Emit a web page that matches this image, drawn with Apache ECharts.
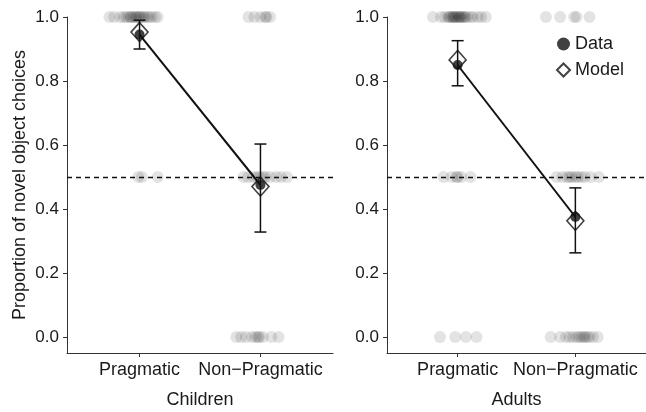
<!DOCTYPE html>
<html>
<head>
<meta charset="utf-8">
<script src="https://cdn.jsdelivr.net/npm/echarts@6/dist/echarts.min.js"></script>
<style>
  html, body { margin: 0; padding: 0; background: #fff; }
  #chart { width: 646px; height: 412px; }
</style>
</head>
<body>
<div id="chart"></div>
<script>
// categories and tick labels
var categories = ['Pragmatic', 'Non\u2212Pragmatic'];
var yTicks = [0, 0.2, 0.4, 0.6, 0.8, 1.0];

// means, error bars and model predictions
var childMean = [0.945, 0.475];
var childLow = [0.90, 0.328];
var childHigh = [0.99, 0.603];
var childModel = [0.953, 0.47];

var adultMean = [0.85, 0.375];
var adultLow = [0.785, 0.263];
var adultHigh = [0.926, 0.466];
var adultModel = [0.866, 0.363];

// jittered single-subject points (x position, one list per level)
var childPrag1 = [0.75, 0.79, 0.84, 0.87, 0.89, 0.91, 0.93, 0.93, 0.95, 0.97, 0.97, 0.99, 1.0, 1.01, 1.03, 1.04, 1.06, 1.08, 1.10, 1.13, 1.15];
var childPrag05 = [0.99, 1.02, 1.15];
var childNP1 = [1.90, 1.95, 2.0, 2.04, 2.05, 2.08];
var childNP05 = [1.86, 1.90, 1.94, 1.97, 1.99, 2.02, 2.04, 2.08, 2.13, 2.17, 2.22];
var childNP0 = [1.80, 1.84, 1.88, 1.93, 1.96, 1.98, 1.99, 2.02, 2.09, 2.15];

var adultPrag1 = [0.79, 0.86, 0.89, 0.92, 0.93, 0.94, 0.96, 0.96, 0.97, 0.98, 0.99, 1.01, 1.01, 1.02, 1.03, 1.04, 1.06, 1.06, 1.08, 1.11, 1.13, 1.17, 1.20, 1.24];
var adultPrag05 = [0.88, 0.95, 0.99, 1.0, 1.03, 1.11];
var adultPrag0 = [0.85, 0.98, 1.07, 1.16];
var adultNP1 = [1.75, 1.87, 1.99, 2.01, 2.12];
var adultNP05 = [1.84, 1.89, 1.93, 1.95, 1.97, 2.0, 2.02, 2.05, 2.08, 2.13, 2.2];
var adultNP0 = [1.79, 1.87, 1.92, 1.95, 1.98, 2.01, 2.03, 2.05, 2.07, 2.08, 2.10, 2.12, 2.15, 2.19];

function pts(xs, y) {
  return xs.map(function (x) { return [x, y]; });
}
var childJitter = [].concat(pts(childPrag1, 1), pts(childPrag05, 0.5), pts(childNP1, 1), pts(childNP05, 0.5), pts(childNP0, 0));
var adultJitter = [].concat(pts(adultPrag1, 1), pts(adultPrag05, 0.5), pts(adultPrag0, 0), pts(adultNP1, 1), pts(adultNP05, 0.5), pts(adultNP0, 0));

function pairs(vals) {
  return vals.map(function (v, i) { return [i + 1, v]; });
}
function bars(low, high) {
  return low.map(function (v, i) { return [i + 1, v, high[i]]; });
}

var font = '"Liberation Sans", Arial, sans-serif';
var ink = '#1a1a1a';

function xAxis(idx, name) {
  return {
    type: 'value', gridIndex: idx, min: 0.4, max: 2.6,
    name: name, nameLocation: 'middle', nameGap: 38,
    nameTextStyle: { fontSize: 18, color: ink, fontFamily: font },
    axisLine: { show: true, onZero: false, lineStyle: { color: '#333', width: 1 } },
    axisTick: { show: true, length: 4, customValues: [1, 2], lineStyle: { color: '#333' } },
    axisLabel: {
      customValues: [1, 2], margin: 8, fontSize: 18, color: ink, fontFamily: font,
      formatter: function (v) { return categories[Math.round(v) - 1]; }
    },
    splitLine: { show: false }
  };
}
function yAxis(idx, name) {
  return {
    type: 'value', gridIndex: idx, min: -0.05, max: 1.0,
    name: name, nameLocation: 'middle', nameGap: 38,
    nameTextStyle: { fontSize: 18, color: ink, fontFamily: font },
    axisLine: { show: true, lineStyle: { color: '#333', width: 1 } },
    axisTick: { show: true, length: 4, customValues: yTicks, lineStyle: { color: '#333' } },
    axisLabel: {
      customValues: yTicks, margin: 8, fontSize: 17, color: ink, fontFamily: font,
      formatter: function (v) { return v.toFixed(1); }
    },
    splitLine: { show: false }
  };
}

function errorSeries(idx, low, high) {
  return {
    type: 'custom', xAxisIndex: idx, yAxisIndex: idx, z: 4,
    data: bars(low, high),
    renderItem: function (params, api) {
      var lo = api.coord([api.value(0), api.value(1)]);
      var hi = api.coord([api.value(0), api.value(2)]);
      var w = 6;
      var style = { stroke: '#111', lineWidth: 1.5 };
      return {
        type: 'group',
        children: [
          { type: 'line', shape: { x1: lo[0], y1: lo[1], x2: hi[0], y2: hi[1] }, style: style },
          { type: 'line', shape: { x1: lo[0] - w, y1: lo[1], x2: lo[0] + w, y2: lo[1] }, style: style },
          { type: 'line', shape: { x1: hi[0] - w, y1: hi[1], x2: hi[0] + w, y2: hi[1] }, style: style }
        ]
      };
    }
  };
}

function panelSeries(idx, jitter, mean, low, high, model) {
  return [
    {
      type: 'scatter', xAxisIndex: idx, yAxisIndex: idx, clip: false, z: 1,
      data: jitter, symbolSize: 12, silent: true,
      itemStyle: { color: '#000', opacity: 0.11 },
      markLine: {
        silent: true, symbol: 'none', label: { show: false },
        lineStyle: { color: '#111', type: [5, 4], width: 1.3, opacity: 1 },
        data: [{ yAxis: 0.5 }]
      }
    },
    {
      type: 'line', xAxisIndex: idx, yAxisIndex: idx, z: 3,
      data: pairs(mean), symbol: 'none',
      lineStyle: { color: '#111', width: 2 }
    },
    errorSeries(idx, low, high),
    {
      name: 'Model', type: 'scatter', xAxisIndex: idx, yAxisIndex: idx, z: 5,
      data: pairs(model), symbol: 'diamond', symbolSize: [17, 19],
      itemStyle: { color: 'rgba(255,255,255,0)', borderColor: '#111', borderWidth: 1.6 }
    },
    {
      name: 'Data', type: 'scatter', xAxisIndex: idx, yAxisIndex: idx, z: 6,
      data: pairs(mean), symbol: 'circle', symbolSize: 10,
      itemStyle: { color: '#111' }
    }
  ];
}

var chart = echarts.init(document.getElementById('chart'), null, { renderer: 'canvas' });
chart.setOption({
  animation: false,
  backgroundColor: '#fff',
  textStyle: { fontFamily: font },
  grid: [
    { left: 67, top: 17, width: 266, height: 336, outerBoundsMode: 'none', containLabel: false },
    { left: 387, top: 17, width: 259, height: 336, outerBoundsMode: 'none', containLabel: false }
  ],
  xAxis: [xAxis(0, 'Children'), xAxis(1, 'Adults')],
  yAxis: [yAxis(0, 'Proportion of novel object choices'), yAxis(1, '')],
  legend: {
    data: [
      { name: 'Data', icon: 'circle', itemStyle: { color: '#111' } },
      { name: 'Model', icon: 'diamond' }
    ],
    orient: 'vertical', left: 556, top: 35, padding: 0,
    itemWidth: 13, itemHeight: 13, itemGap: 8,
    textStyle: { fontSize: 18, color: ink, fontFamily: font },
    selectedMode: false
  },
  series: [].concat(
    panelSeries(0, childJitter, childMean, childLow, childHigh, childModel),
    panelSeries(1, adultJitter, adultMean, adultLow, adultHigh, adultModel)
  )
});
</script>
</body>
</html>
